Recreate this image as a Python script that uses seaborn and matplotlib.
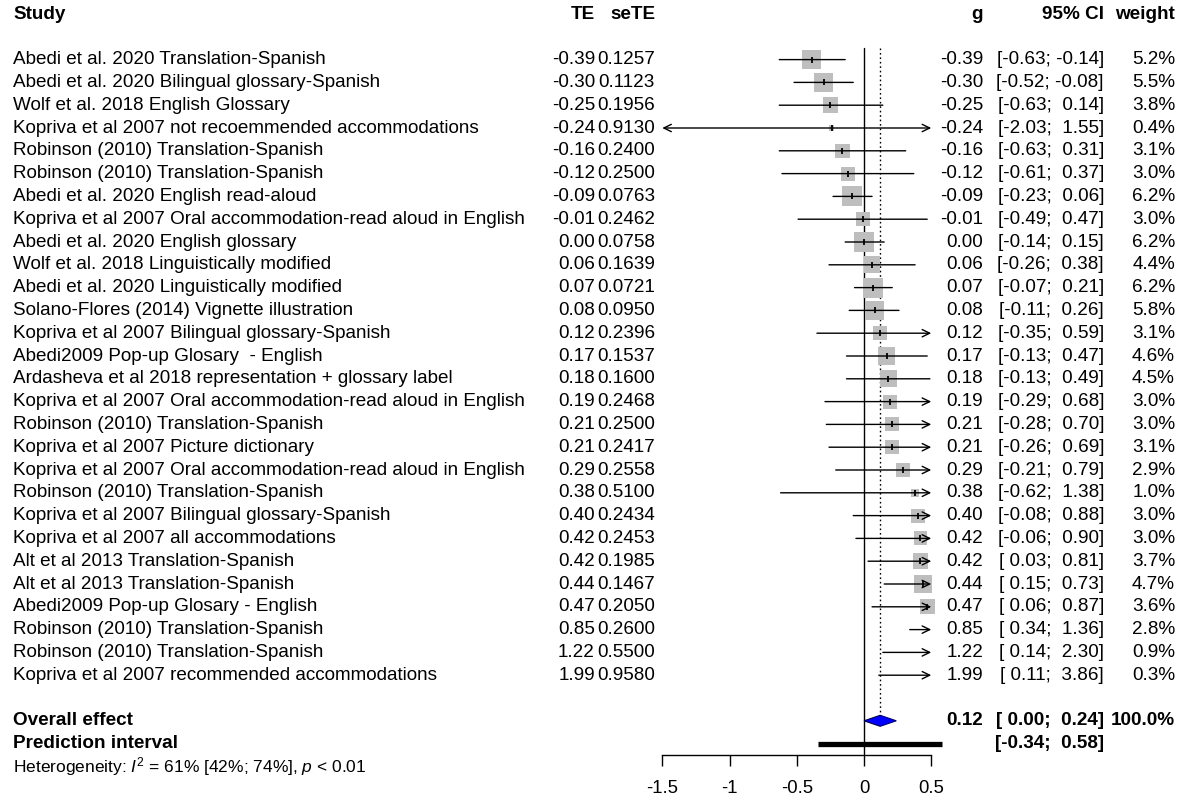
import numpy as np
import pandas as pd
import matplotlib
matplotlib.use("Agg")
import matplotlib.pyplot as plt
import seaborn as sns

# === data ===
studies = [
    "Abedi et al. 2020 Translation-Spanish",
    "Abedi et al. 2020 Bilingual glossary-Spanish",
    "Wolf et al. 2018 English Glossary",
    "Kopriva et al 2007 not recoemmended accommodations",
    "Robinson (2010) Translation-Spanish",
    "Robinson (2010) Translation-Spanish",
    "Abedi et al. 2020 English read-aloud",
    "Kopriva et al 2007 Oral accommodation-read aloud in English",
    "Abedi et al. 2020 English glossary",
    "Wolf et al. 2018 Linguistically modified",
    "Abedi et al. 2020 Linguistically modified",
    "Solano-Flores (2014) Vignette illustration",
    "Kopriva et al 2007 Bilingual glossary-Spanish",
    "Abedi2009 Pop-up Glosary  - English",
    "Ardasheva et al 2018 representation + glossary label",
    "Kopriva et al 2007 Oral accommodation-read aloud in English",
    "Robinson (2010) Translation-Spanish",
    "Kopriva et al 2007 Picture dictionary",
    "Kopriva et al 2007 Oral accommodation-read aloud in English",
    "Robinson (2010) Translation-Spanish",
    "Kopriva et al 2007 Bilingual glossary-Spanish",
    "Kopriva et al 2007 all accommodations",
    "Alt et al 2013 Translation-Spanish",
    "Alt et al 2013 Translation-Spanish",
    "Abedi2009 Pop-up Glosary - English",
    "Robinson (2010) Translation-Spanish",
    "Robinson (2010) Translation-Spanish",
    "Kopriva et al 2007 recommended accommodations",
]
te = [-0.39, -0.30, -0.25, -0.24, -0.16, -0.12, -0.09, -0.01, 0.00, 0.06,
      0.07, 0.08, 0.12, 0.17, 0.18, 0.19, 0.21, 0.21, 0.29, 0.38,
      0.40, 0.42, 0.42, 0.44, 0.47, 0.85, 1.22, 1.99]
se_te = [0.1257, 0.1123, 0.1956, 0.9130, 0.2400, 0.2500, 0.0763, 0.2462, 0.0758, 0.1639,
         0.0721, 0.0950, 0.2396, 0.1537, 0.1600, 0.2468, 0.2500, 0.2417, 0.2558, 0.5100,
         0.2434, 0.2453, 0.1985, 0.1467, 0.2050, 0.2600, 0.5500, 0.9580]
ci_low = [-0.63, -0.52, -0.63, -2.03, -0.63, -0.61, -0.23, -0.49, -0.14, -0.26,
          -0.07, -0.11, -0.35, -0.13, -0.13, -0.29, -0.28, -0.26, -0.21, -0.62,
          -0.08, -0.06, 0.03, 0.15, 0.06, 0.34, 0.14, 0.11]
ci_high = [-0.14, -0.08, 0.14, 1.55, 0.31, 0.37, 0.06, 0.47, 0.15, 0.38,
           0.21, 0.26, 0.59, 0.47, 0.49, 0.68, 0.70, 0.69, 0.79, 1.38,
           0.88, 0.90, 0.81, 0.73, 0.87, 1.36, 2.30, 3.86]
weight = [5.2, 5.5, 3.8, 0.4, 3.1, 3.0, 6.2, 3.0, 6.2, 4.4,
          6.2, 5.8, 3.1, 4.6, 4.5, 3.0, 3.0, 3.1, 2.9, 1.0,
          3.0, 3.0, 3.7, 4.7, 3.6, 2.8, 0.9, 0.3]

overall_g, overall_low, overall_high, overall_w = 0.12, 0.00, 0.24, 100.0
pred_low, pred_high = -0.34, 0.58
tick_values = [-1.5, -1, -0.5, 0, 0.5]
tick_labels = ["-1.5", "-1", "-0.5", "0", "0.5"]
x_min, x_max = -1.5, 0.5

df = pd.DataFrame({"study": studies, "te": te, "se": se_te, "lo": ci_low,
                   "hi": ci_high, "w": weight})
df["row"] = np.arange(len(df)) + 2
row_overall, row_pred, row_het = len(df) + 3, len(df) + 4, len(df) + 5

sns.set_theme(style="white")
plt.rcParams["font.family"] = ["Liberation Sans", "DejaVu Sans"]
plt.rcParams["mathtext.fontset"] = "custom"
plt.rcParams["mathtext.rm"] = "Liberation Sans"
plt.rcParams["mathtext.it"] = "Liberation Sans:italic"

W, H = 1187, 799
fig = plt.figure(figsize=(W / 100, H / 100), dpi=100)
ax = fig.add_axes([0, 0, 1, 1])

# pixel layout of the page: zero line at x=864, 134.5 px per unit, 22.8 px per row
x0_px, unit_px, top_px, row_px = 864, 134.5, 14, 22.8
ax.set_xlim(-x0_px / unit_px, (W - x0_px) / unit_px)
ax.set_ylim((H - top_px) / row_px, -top_px / row_px)
axis_row = (755 - top_px) / row_px

fs = 13.6
trans = ax.get_yaxis_transform()


def txt(xpx, row, s, ha="right", bold=False, size=fs):
    ax.text(xpx / W, row, s, transform=trans, ha=ha, va="center",
            fontsize=size, fontweight="bold" if bold else "normal", color="black")


# header
txt(13, 0, "Study", ha="left", bold=True)
txt(595, 0, "TE", bold=True)
txt(655, 0, "seTE", bold=True)
txt(983, 0, "g", bold=True)
txt(1104, 0, "95% CI", bold=True)
txt(1175, 0, "weight", bold=True)

for _, r in df.iterrows():
    txt(13, r.row, r.study, ha="left")
    txt(595, r.row, f"{r.te:.2f}")
    txt(655, r.row, f"{r.se:.4f}")
    txt(983, r.row, f"{r.te:.2f}")
    txt(1104, r.row, f"[{r.lo:5.2f}; {r.hi:5.2f}]")
    txt(1175, r.row, f"{r.w:.1f}%")

txt(13, row_overall, "Overall effect", ha="left", bold=True)
txt(983, row_overall, f"{overall_g:.2f}", bold=True)
txt(1104, row_overall, f"[{overall_low:5.2f}; {overall_high:5.2f}]", bold=True)
txt(1175, row_overall, f"{overall_w:.1f}%", bold=True)
txt(13, row_pred, "Prediction interval", ha="left", bold=True)
txt(1104, row_pred, f"[{pred_low:5.2f}; {pred_high:5.2f}]", bold=True)
txt(13, row_het, r"Heterogeneity: $\mathit{I}^2$ = 61% [42%; 74%], $\mathit{p}$ < 0.01",
    ha="left", size=12.5)

# boxes (area proportional to weight)
inside = df[(df.te >= x_min) & (df.te <= x_max)]
box_pt = 20 * 0.72
sns.scatterplot(data=inside, x="te", y="row", size="w", sizes=(0, box_pt ** 2),
                size_norm=(0, max(weight)), marker="s", color="#BEBEBE",
                linewidth=0, legend=False, ax=ax, zorder=2)

# confidence intervals, arrows where clipped
for _, r in df.iterrows():
    lo, hi = max(r.lo, x_min), min(r.hi, x_max)
    left, right = r.lo < x_min, r.hi > x_max
    style = {(False, False): "-", (False, True): "->",
             (True, False): "<-", (True, True): "<->"}[(left, right)]
    if style != "-":
        style += ",head_length=0.45,head_width=0.22"
    ax.annotate("", xy=(hi, r.row), xytext=(lo, r.row),
                arrowprops=dict(arrowstyle=style, lw=1, color="black",
                                shrinkA=0, shrinkB=0), zorder=3)
ax.scatter(inside.te, inside.row, marker="|", s=20, color="black", lw=1.3, zorder=4)

# reference and overall lines
ax.plot([0, 0], [1.5, axis_row], color="black", lw=1, zorder=1)
dh = 5.5 / row_px
ax.plot([overall_g, overall_g], [1.5, row_overall - dh], color="black", lw=1,
        ls=(0, (1.2, 2.0)), zorder=1)
ax.fill([overall_low, overall_g, overall_high, overall_g],
        [row_overall, row_overall - dh, row_overall, row_overall + dh],
        facecolor="#0000FF", edgecolor="#000060", lw=0.8, zorder=5)
ax.plot([pred_low, pred_high], [row_pred, row_pred], color="black", lw=3.8,
        solid_capstyle="butt", zorder=5)

# bottom axis
for side in ["top", "left", "right"]:
    ax.spines[side].set_visible(False)
ax.spines["bottom"].set_position(("data", axis_row))
ax.spines["bottom"].set_bounds(x_min, x_max)
ax.spines["bottom"].set_color("black")
ax.spines["bottom"].set_linewidth(1)
ax.set_xticks(tick_values)
ax.set_xticklabels(tick_labels)
ax.set_yticks([])
ax.tick_params(axis="x", bottom=True, direction="out", length=8, width=1,
               pad=10, labelsize=13.3, color="black", labelcolor="black")
ax.set_xlabel("")
ax.set_ylabel("")

fig.savefig("out.png", dpi=100)
